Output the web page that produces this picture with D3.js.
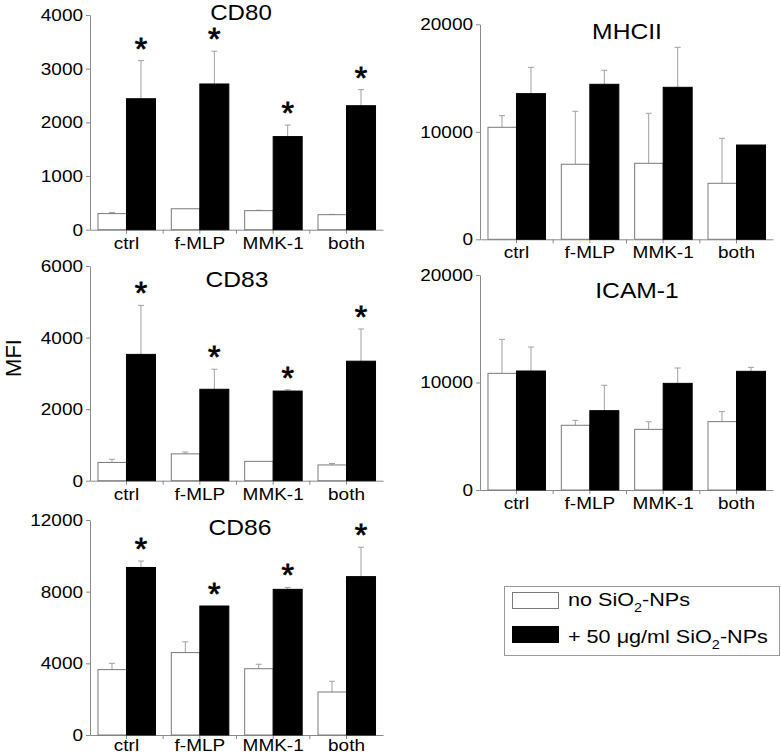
<!DOCTYPE html>
<html>
<head>
<meta charset="utf-8">
<script src="https://cdn.jsdelivr.net/npm/d3@7"></script>
<style>
  html, body { margin: 0; padding: 0; background: #fff; }
  svg { display: block; font-family: "Liberation Sans", Arial, sans-serif; }
</style>
</head>
<body>
<svg id="chart" width="781" height="756"></svg>
<script>
// ---------- DATA ----------
const categories = ["ctrl", "f-MLP", "MMK-1", "both"];
const seriesNames = ["no SiO2-NPs", "+ 50 μg/ml SiO2-NPs"];

const cd80NoNP      = [300, 390, 355, 280];
const cd80NoNPErr   = [20, 0, 8, 6];
const cd80NP        = [2440, 2715, 1735, 2310];
const cd80NPErr     = [710, 610, 215, 300];
const cd80Sig       = [true, true, true, true];
const cd80Ticks     = [0, 1000, 2000, 3000, 4000];

const cd83NoNP      = [510, 750, 540, 440];
const cd83NoNPErr   = [90, 50, 0, 40];
const cd83NP        = [3530, 2555, 2505, 3340];
const cd83NPErr     = [1370, 560, 35, 900];
const cd83Sig       = [true, true, true, true];
const cd83Ticks     = [0, 2000, 4000, 6000];

const cd86NoNP      = [3650, 4600, 3700, 2400];
const cd86NoNPErr   = [350, 600, 250, 600];
const cd86NP        = [9350, 7200, 8130, 8840];
const cd86NPErr     = [360, 0, 110, 1640];
const cd86Sig       = [true, true, true, true];
const cd86Ticks     = [0, 4000, 8000, 12000];

const mhciiNoNP     = [10420, 6980, 7070, 5210];
const mhciiNoNPErr  = [1080, 4930, 4650, 4190];
const mhciiNP       = [13550, 14420, 14140, 8770];
const mhciiNPErr    = [2450, 1300, 3720, 0];
const mhciiSig      = [false, false, false, false];
const mhciiTicks    = [0, 10000, 20000];

const icamNoNP      = [10850, 6020, 5640, 6360];
const icamNoNPErr   = [3160, 460, 710, 930];
const icamNP        = [11070, 7380, 9920, 11040];
const icamNPErr     = [2230, 2360, 1430, 370];
const icamSig       = [false, false, false, false];
const icamTicks     = [0, 10000, 20000];

const panelTitles = ["CD80", "CD83", "CD86", "MHCII", "ICAM-1"];
const yLabel = "MFI";

// ---------- LAYOUT ----------
const panels = [
  { title: panelTitles[0], a: cd80NoNP, ae: cd80NoNPErr, b: cd80NP, be: cd80NPErr, sig: cd80Sig, ticks: cd80Ticks,
    x0: 90, x1: 383, yTop: 15, yBot: 229.7, tx: 241, ty: 19.6, ts: 21.5, ld: 19 },
  { title: panelTitles[1], a: cd83NoNP, ae: cd83NoNPErr, b: cd83NP, be: cd83NPErr, sig: cd83Sig, ticks: cd83Ticks,
    x0: 90, x1: 383, yTop: 266, yBot: 480.7, tx: 237, ty: 287, ts: 22, ld: 19 },
  { title: panelTitles[2], a: cd86NoNP, ae: cd86NoNPErr, b: cd86NP, be: cd86NPErr, sig: cd86Sig, ticks: cd86Ticks,
    x0: 90, x1: 383, yTop: 520, yBot: 735, tx: 240, ty: 535, ts: 22, ld: 16 },
  { title: panelTitles[3], a: mhciiNoNP, ae: mhciiNoNPErr, b: mhciiNP, be: mhciiNPErr, sig: mhciiSig, ticks: mhciiTicks,
    x0: 480, x1: 773, yTop: 24.3, yBot: 239.3, tx: 627, ty: 39, ts: 22, ld: 19 },
  { title: panelTitles[4], a: icamNoNP, ae: icamNoNPErr, b: icamNP, be: icamNPErr, sig: icamSig, ticks: icamTicks,
    x0: 480, x1: 773, yTop: 275, yBot: 490, tx: 637, ty: 298, ts: 22, ld: 19 }
];

const svg = d3.select("#chart");
const axisColor = "#8a8a8a";
const errColor = "#a0a0a0";
const SX = 1.15; // horizontal stretch of the reference's lettering

function stext(parent, x, y, str, size, anchor, sx) {
  return parent.append("text")
    .attr("transform", `translate(${x},${y}) scale(${sx},1)`)
    .attr("text-anchor", anchor)
    .style("font-size", size + "px")
    .attr("fill", "#000")
    .text(str);
}

panels.forEach(p => {
  const g = svg.append("g");
  const x = d3.scaleBand().domain(categories).range([p.x0, p.x1])
    .paddingInner(0.209).paddingOuter(0.102);
  const xs = d3.scaleBand().domain([0, 1]).range([0, x.bandwidth()]).padding(0);
  const yMax = p.ticks[p.ticks.length - 1];
  const y = d3.scaleLinear().domain([0, yMax]).range([p.yBot, p.yTop]);

  // y axis
  const ya = g.append("g").attr("transform", `translate(${p.x0},0)`)
    .call(d3.axisLeft(y).tickValues(p.ticks).tickSize(4).tickSizeOuter(0).tickFormat(d3.format("d")));
  ya.select(".domain").attr("stroke", axisColor);
  ya.selectAll(".tick line").attr("stroke", axisColor);
  ya.selectAll(".tick text").remove();
  p.ticks.forEach(t => {
    stext(g, p.x0 - 7, y(t), d3.format("d")(t), 16.5, "end", SX).attr("dy", "0.36em");
  });

  // x axis
  const xa = g.append("g").attr("transform", `translate(0,${p.yBot})`)
    .call(d3.axisBottom(x).tickSize(0).tickSizeOuter(0).tickFormat(""));
  xa.select(".domain").attr("stroke", axisColor);
  xa.selectAll(".tick").remove();
  const tickXs = [];
  categories.forEach((c, i) => {
    tickXs.push(x(c) + x.bandwidth() / 2);
    if (i < categories.length - 1) tickXs.push((x(c) + x.bandwidth() + x(categories[i + 1])) / 2);
  });
  g.selectAll(".xt").data(tickXs).enter().append("line")
    .attr("x1", d => d).attr("x2", d => d)
    .attr("y1", p.yBot).attr("y2", p.yBot + 4)
    .attr("stroke", axisColor);

  categories.forEach(c => {
    stext(g, x(c) + x.bandwidth() / 2, p.yBot + p.ld, c, 16.5, "middle", SX);
  });

  // bars
  const rows = categories.map((c, i) => ({ c, i }));
  const series = [
    { vals: p.a, errs: p.ae, fill: "#ffffff", stroke: "#7a7a7a", k: 0 },
    { vals: p.b, errs: p.be, fill: "#000000", stroke: "#000000", k: 1 }
  ];
  series.forEach(s => {
    rows.forEach(r => {
      const e = s.errs[r.i];
      if (e <= 0) return;
      const cx = x(r.c) + xs(s.k) + xs.bandwidth() / 2;
      g.append("line").attr("x1", cx).attr("x2", cx)
        .attr("y1", y(s.vals[r.i])).attr("y2", y(s.vals[r.i] + e))
        .attr("stroke", errColor).attr("stroke-width", 1);
      g.append("line").attr("x1", cx - 3).attr("x2", cx + 3)
        .attr("y1", y(s.vals[r.i] + e)).attr("y2", y(s.vals[r.i] + e))
        .attr("stroke", errColor).attr("stroke-width", 1);
    });
    g.selectAll(null).data(rows).enter().append("rect")
      .attr("x", r => x(r.c) + xs(s.k) + (s.k === 0 ? 0.5 : 0))
      .attr("width", xs.bandwidth() - (s.k === 0 ? 0.5 : 0))
      .attr("y", r => y(s.vals[r.i]))
      .attr("height", r => p.yBot - y(s.vals[r.i]))
      .attr("fill", s.fill)
      .attr("stroke", s.stroke)
      .attr("stroke-width", 1);
  });

  // significance asterisks
  rows.forEach(r => {
    if (!p.sig[r.i]) return;
    const cx = x(r.c) + xs(1) + xs.bandwidth() / 2;
    const top = y(p.b[r.i] + p.be[r.i]);
    g.append("text").attr("x", cx).attr("y", top - 1)
      .attr("text-anchor", "middle")
      .style("font-size", "32px")
      .attr("stroke", "#000").attr("stroke-width", 0.8)
      .text("*");
  });

  // title
  stext(g, p.tx, p.ty, p.title, p.ts, "middle", 1.12);
});

// y label
svg.append("text")
  .attr("transform", "translate(21,358) rotate(-90)")
  .attr("text-anchor", "middle")
  .style("font-size", "22px")
  .text(yLabel);

// legend
const lg = svg.append("g");
lg.append("rect").attr("x", 504.5).attr("y", 586.5).attr("width", 275).attr("height", 69)
  .attr("fill", "#fff").attr("stroke", "#9a9a9a");
const legendItems = [
  { fill: "#fff", stroke: "#7a7a7a", y: 592, parts: ["no SiO", "2", "-NPs"], ty: 606 },
  { fill: "#000", stroke: "#000", y: 626, parts: ["+ 50 μg/ml SiO", "2", "-NPs"], ty: 643 }
];
legendItems.forEach(it => {
  lg.append("rect").attr("x", 512.5).attr("y", it.y + 0.5).attr("width", 46).attr("height", 16)
    .attr("fill", it.fill).attr("stroke", it.stroke);
  const t = lg.append("text")
    .attr("transform", `translate(568,${it.ty}) scale(1.2,1)`)
    .style("font-size", "18px");
  t.append("tspan").text(it.parts[0]);
  t.append("tspan").attr("dy", 6).style("font-size", "12px").text(it.parts[1]);
  t.append("tspan").attr("dy", -6).text(it.parts[2]);
});
</script>
</body>
</html>
